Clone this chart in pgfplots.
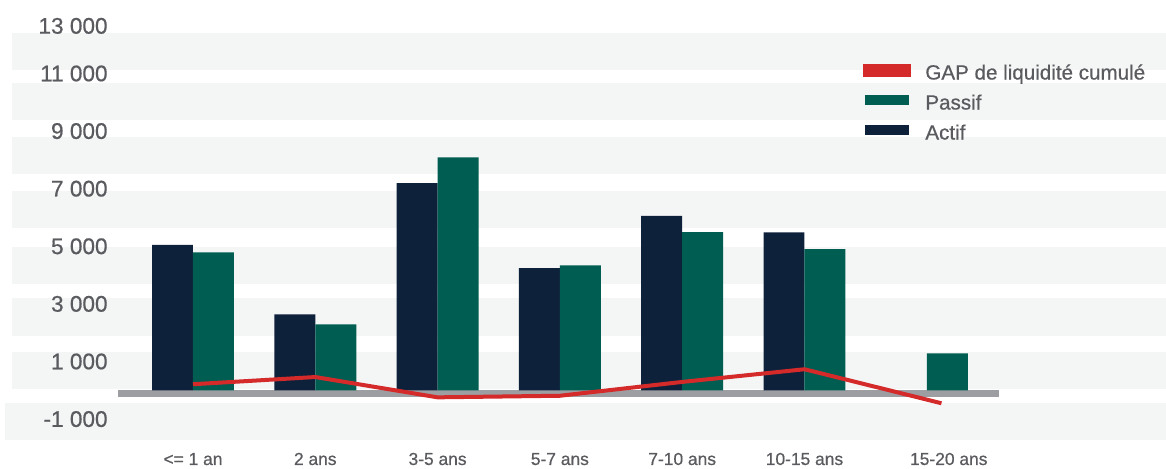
\documentclass[border=0pt]{standalone}
\usepackage{fontspec}
\setmainfont{Liberation Sans}[FakeBold=0.6]
\usepackage{pgfplots}
\pgfplotsset{compat=1.18}

\definecolor{actif}{HTML}{0E213A}
\definecolor{passif}{HTML}{005D52}
\definecolor{gap}{HTML}{D42A2A}
\definecolor{band}{HTML}{F4F5F5}
\definecolor{basegray}{HTML}{9D9EA2}
\definecolor{txt}{HTML}{5A5B5F}

\begin{document}
\begin{tikzpicture}
\begin{axis}[
  width=583pt, height=234.5pt, scale only axis,
  xmin=-1.578, xmax=7.956,
  ymin=-2733, ymax=13552,
  clip=false,
  axis on top,
  scaled y ticks=false,
  axis line style={draw=none},
  tick style={draw=none},
  major tick length=0pt,
  xtick={0,...,5},
  xticklabels={<= 1 an, 2 ans, 3-5 ans, 5-7 ans, 7-10 ans, 10-15 ans},
  extra x ticks={6},
  extra x tick labels={15-20 ans},
  extra x tick style={xticklabel style={xshift=11pt}},
  ytick={-1000,1000,3000,5000,7000,9000,11000},
  yticklabels={-1 000,1 000,3 000,5 000,7 000,9 000,11 000},
  extra y ticks={13000},
  extra y tick labels={13 000},
  extra y tick style={yticklabel style={yshift=-5pt}},
  yticklabel style={anchor=east, inner sep=0pt, xshift=54pt,
    font=\fontsize{11.3}{13}\selectfont, text=txt},
  xticklabel style={anchor=base, inner sep=0pt, yshift=2pt,
    font=\fontsize{8.7}{10}\selectfont, text=txt},
  legend style={at={(rel axis cs:0.7401,0.8641)}, anchor=north west,
    draw=none, fill=none, inner sep=0pt,
    font=\fontsize{10.3}{12}\selectfont, text=txt,
    row sep=5pt, column sep=7pt,
    nodes={inner sep=0pt, text height=7.5pt, text depth=2.5pt}},
  legend cell align=left,
  reverse legend,
]
% background bands
\fill[band] (axis cs:-1.48,11122) rectangle (axis cs:7.956,12406);
\fill[band] (axis cs:-1.48,9385) rectangle (axis cs:7.956,10670);
\fill[band] (axis cs:-1.48,7510) rectangle (axis cs:7.956,8795);
\fill[band] (axis cs:-1.48,5635) rectangle (axis cs:7.956,6920);
\fill[band] (axis cs:-1.48,3691) rectangle (axis cs:7.956,4976);
\fill[band] (axis cs:-1.48,1885) rectangle (axis cs:7.956,3205);
\fill[band] (axis cs:-1.48,45) rectangle (axis cs:7.956,1330);
\fill[band] (axis cs:-1.537,-1726) rectangle (axis cs:7.956,-441);
% zero line
\fill[basegray] (axis cs:-0.613,0) rectangle ([yshift=-3.5pt]axis cs:6.59,0);

\addplot[ybar, bar width=0.335, bar shift=-0.1675, fill=actif, draw=none,
  legend image code/.code={\fill[actif] (0pt,0pt) rectangle (22pt,4.8pt);}]
  coordinates {(0,5050) (1,2640) (2,7190) (3,4240) (4,6060) (5,5480)};
\addlegendentry{Actif}
\addplot[ybar, bar width=0.335, bar shift=0.1675, fill=passif, draw=none,
  legend image code/.code={\fill[passif] (0pt,0pt) rectangle (22pt,4.8pt);}]
  coordinates {(0,4790) (1,2290) (2,8090) (3,4340) (4,5490) (5,4900) (6,1285)};
\addlegendentry{Passif}
\addplot[gap, line width=2pt, mark=none,
  legend image code/.code={\fill[gap] (0pt,0pt) rectangle (22pt,4.2pt);}]
  coordinates {(0,210) (1,460) (2,-245) (3,-190) (4,290) (5,730) (6.12,-450)};
\addlegendentry{GAP de liquidité cumulé}
\end{axis}
\end{tikzpicture}
\end{document}
